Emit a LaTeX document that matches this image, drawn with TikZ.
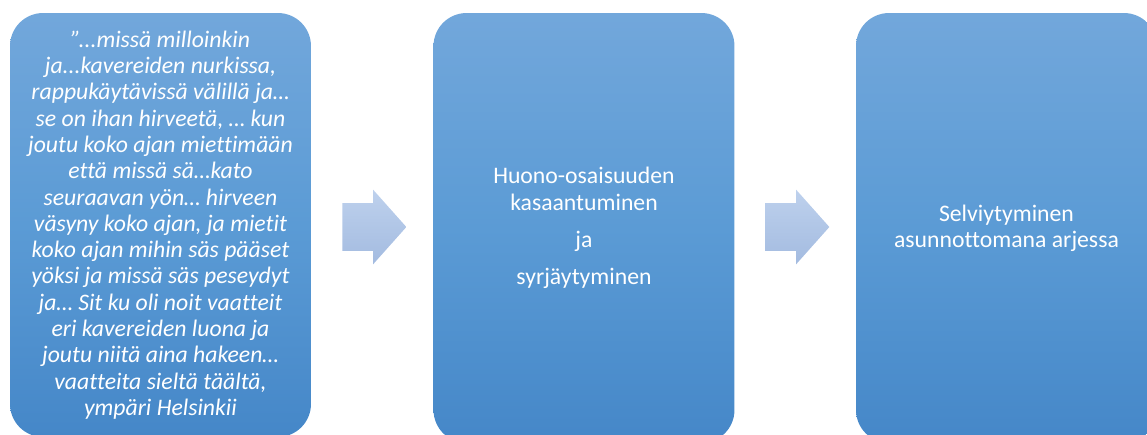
\documentclass[tikz,border=0pt]{standalone}
\usepackage{fontspec}
\setmainfont{Carlito}[Ligatures=NoCommon]
\usepackage{xcolor}
\usepackage{tikz}
\usetikzlibrary{shapes.arrows, positioning}
\definecolor{boxtop}{RGB}{114, 167, 219}
\definecolor{boxmid}{RGB}{91, 155, 213}
\definecolor{boxbottom}{RGB}{69, 135, 200}
\definecolor{arrowtop}{RGB}{190, 209, 237}
\definecolor{arrowbottom}{RGB}{163, 187, 224}

\begin{document}
\begin{tikzpicture}[x=0.02cm, y=-0.02cm,
    phasebox/.style={rounded corners=0.66cm, minimum width=6.02cm, minimum height=8.6cm,
        top color=boxtop, bottom color=boxbottom, middle color=boxmid,
        text=white, align=center, inner sep=0pt, font=\fontsize{13.5}{14.9}\selectfont},
    steparrow/.style={single arrow, single arrow head extend=0.27cm, single arrow tip angle=96.6,
        inner xsep=0pt, inner ysep=0.47cm, minimum height=1.28cm, anchor=tail,
        top color=arrowtop, bottom color=arrowbottom, draw=none}]
    \useasboundingbox (0, 0) rectangle (1147, 435);
    \clip (0, 0) rectangle (1147, 435);

    % Quote
    \node[phasebox, minimum height=8.48cm, font=\fontsize{13.5}{14.96}\selectfont\itshape] (quote) at (160.5, 225) {%
        ”...missä milloinkin\\
        ja...kavereiden nurkissa,\\
        rappukäytävissä välillä ja…\\
        se on ihan hirveetä, … kun\\
        joutu koko ajan miettimään\\
        että missä sä…kato\\
        seuraavan yön… hirveen\\
        väsyny koko ajan, ja mietit\\
        koko ajan mihin säs pääset\\
        yöksi ja missä säs peseydyt\\
        ja… Sit ku oli noit vaatteit\\
        eri kavereiden luona ja\\
        joutu niitä aina hakeen…\\
        vaatteita sieltä täältä,\\
        ympäri Helsinkii};

    % Accumulation
    \node[phasebox] (pile) at (584, 228) {%
        Huono-osaisuuden\\
        kasaantuminen\\[6.3pt]
        ja\\[6.3pt]
        syrjäytyminen};

    % Coping
    \node[phasebox] (cope) at (1006.5, 228) {%
        Selviytyminen\\
        asunnottomana arjessa};

    % Arrows
    \node[steparrow] (step1) at (342, 227) {};
    \node[steparrow] (step2) at (765, 227) {};

\end{tikzpicture}
\end{document}
